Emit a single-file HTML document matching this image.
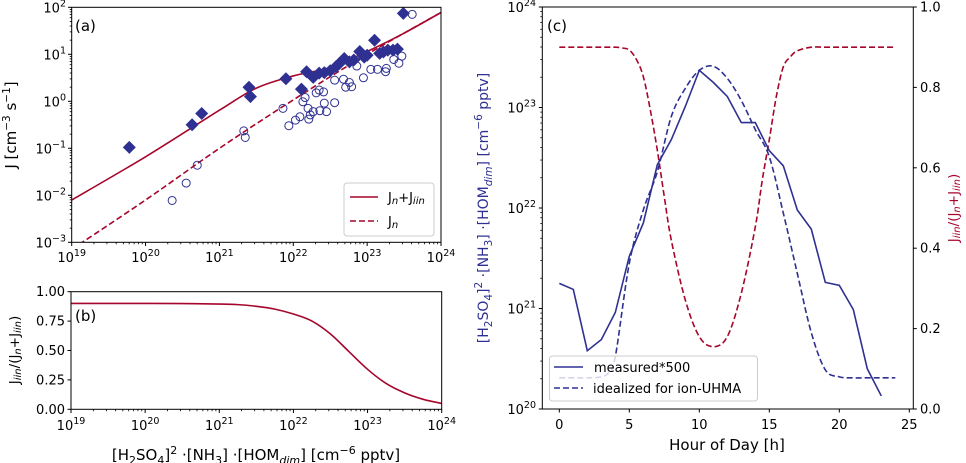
<!DOCTYPE html>
<html><head><meta charset="utf-8">
<style>
html,body{margin:0;padding:0;background:#fff;}
svg{display:block;font-family:"DejaVu Sans","Liberation Sans",sans-serif;}
</style></head>
<body>
<svg id="chart" width="966" height="463" viewBox="0 0 966 463" xmlns="http://www.w3.org/2000/svg">
<defs>
<clipPath id="clipA"><rect x="71.7" y="7.3" width="369.3" height="235"/></clipPath>
<clipPath id="clipB"><rect x="71" y="291.7" width="370.7" height="117.6"/></clipPath>
<clipPath id="clipC"><rect x="542.3" y="7" width="371" height="402"/></clipPath>
</defs>
</svg>
<script>
// ---------- Panel (a) data ----------
const lineLogX = [19, 20, 21, 21.5, 22, 22.5, 23, 23.5, 24];
const totalLogJ = [-2.1, -1.18, -0.19, 0.28, 0.54, 0.72, 1.06, 1.45, 1.89];
const jnLogX = [19, 20, 21, 22, 23, 24];
const jnLogJ = [-3.15, -2.1, -1.0, 0.03, 1.0, 1.89];
const diamondLogX = [19.78,20.63,20.76,21.40,21.42,21.90,22.11,22.18,22.27,22.42,22.50,22.58,22.69,22.76,22.90,22.96,23.10,23.17,23.28,23.35,23.41,23.49,22.35,22.62,22.82,23.00,23.22];
const diamondLogJ = [-0.98,-0.50,-0.26,0.30,0.10,0.48,0.26,0.63,0.51,0.61,0.65,0.74,0.91,0.84,1.06,0.94,1.30,1.02,1.09,1.09,1.11,1.87,0.60,0.80,0.88,0.98,1.05];
const circleLogX = [20.36,20.55,20.70,21.33,21.35,21.86,21.94,22.03,22.09,22.13,22.16,22.20,22.21,22.23,22.27,22.31,22.35,22.36,22.41,22.42,22.45,22.56,22.56,22.68,22.71,22.76,22.79,22.86,22.95,23.05,23.14,23.25,23.26,23.36,23.43,23.47,23.61];
const circleLogJ = [-2.11,-1.74,-1.36,-0.63,-0.77,-0.15,-0.52,-0.40,-0.33,-0.01,0.08,-0.15,-0.38,-0.29,-0.22,0.18,0.24,-0.20,0.20,-0.04,-0.22,-0.03,0.45,0.47,0.30,0.40,0.31,0.75,0.50,0.68,0.68,0.63,0.70,0.89,0.81,0.96,1.85];
const aYTicks = [-3,-2,-1,0,1,2];
const xDecades = [19,20,21,22,23,24];
// ---------- Panel (b) data ----------
const ratioLogX = [19,19.5,20,20.5,21,21.25,21.5,21.75,22,22.25,22.5,22.75,23,23.25,23.5,23.75,24];
const ratioVal = [0.900,0.900,0.900,0.899,0.895,0.89,0.876,0.852,0.81,0.75,0.64,0.49,0.34,0.22,0.14,0.085,0.05];
const bYTicks = [0,0.25,0.5,0.75,1.0];
const bYLabels = ["0.00","0.25","0.50","0.75","1.00"];
// ---------- Panel (c) data ----------
const hours = [0,1,2,3,4,5,6,7,8,9,10,11,12,13,14,15,16,17,18,19,20,21,22,23];
const measuredLog = [21.25,21.19,20.58,20.69,20.96,21.52,21.85,22.43,22.68,23.01,23.37,23.25,23.11,22.85,22.85,22.57,22.42,21.98,21.79,21.26,21.23,20.99,20.40,20.13];
const idealHours = [0,1,2,3,3.5,4,5,6,7,8,9,10,11,12,13,14,15,16,17,18,19,20,21,22,23,24];
const idealLog = [20.31,20.31,20.31,20.32,20.36,20.52,21.45,21.98,22.36,22.91,23.19,23.37,23.41,23.29,23.07,22.78,22.51,21.95,21.35,20.76,20.39,20.32,20.31,20.31,20.31,20.31];
const ratioHours = [0,1,2,3,4,4.5,5,5.5,6,6.5,7,7.5,8,9,10,11,12,13,14,14.5,15,15.5,16,16.5,17,18,19,20,21,22,23,24];
const ratioC = [0.9,0.9,0.9,0.9,0.9,0.898,0.893,0.87,0.827,0.744,0.644,0.528,0.42,0.271,0.18,0.155,0.18,0.288,0.453,0.57,0.67,0.777,0.851,0.876,0.891,0.9,0.9,0.9,0.9,0.9,0.9,0.9];
const cXTicks = [0,5,10,15,20,25];
const cLeftTicks = [20,21,22,23,24];
const cRightTicks = [0,0.2,0.4,0.6,0.8,1.0];
const cRightLabels = ["0.0","0.2","0.4","0.6","0.8","1.0"];

// ---------- scales ----------
const xa = l => 71.7 + (l - 19) * 73.86;
const ya = l => 7.3 + (2 - l) * 47;
const xb = l => 71 + (l - 19) * 74.14;
const yb = v => 409.3 - v * 117.6;
const xc = h => 559.3 + h * 14;
const ycl = l => 7 + (24 - l) * 100.5;
const ycr = v => 409 - v * 402;

const RED = "#a6052c", BLUE = "#2f3192";
const NS = "http://www.w3.org/2000/svg";
const svg = document.getElementById("chart");
function mk(tag, attrs, parent) {
  const e = document.createElementNS(NS, tag);
  for (const k in attrs) e.setAttribute(k, attrs[k]);
  (parent || svg).appendChild(e);
  return e;
}
function smoothPath(pts) {
  let d = "M" + pts[0][0].toFixed(2) + "," + pts[0][1].toFixed(2);
  for (let i = 0; i < pts.length - 1; i++) {
    const p0 = pts[i - 1] || pts[i], p1 = pts[i], p2 = pts[i + 1], p3 = pts[i + 2] || p2;
    const c1 = [p1[0] + (p2[0] - p0[0]) / 6, p1[1] + (p2[1] - p0[1]) / 6];
    const c2 = [p2[0] - (p3[0] - p1[0]) / 6, p2[1] - (p3[1] - p1[1]) / 6];
    d += "C" + c1.join(",") + " " + c2.join(",") + " " + p2[0] + "," + p2[1];
  }
  return d;
}
function linePath(pts) { return "M" + pts.map(p => p[0].toFixed(2) + "," + p[1].toFixed(2)).join("L"); }
function powText(x, y, base, exp, anchor, name) {
  const t = mk("text", {x: x, y: y, "font-size": 13, "text-anchor": anchor || "middle", fill: "#000"});
  
  
  const a = mk("tspan", {}, t); a.textContent = base;
  const b = mk("tspan", {dy: -6, "font-size": 9.5}, t); b.textContent = exp;
  return t;
}
function logMinorX(sx, y0, x0dec, x1dec, grp) {
  for (let d = x0dec; d < x1dec; d++) for (let m = 2; m <= 9; m++) {
    const x = sx(d + Math.log10(m));
    mk("line", {x1: x, x2: x, y1: y0, y2: y0 + 2, stroke: "#000", "stroke-width": 0.8}, grp);
  }
}

// ================= Panel (a) =================
const ga = mk("g", {});


const gaData = mk("g", {"clip-path": "url(#clipA)"}, ga);
const totalLine = mk("path", {d: smoothPath(lineLogX.map((l, i) => [xa(l), ya(totalLogJ[i])])), fill: "none", stroke: RED, "stroke-width": 1.6}, gaData);


const jnLine = mk("path", {d: smoothPath(jnLogX.map((l, i) => [xa(l), ya(jnLogJ[i])])), fill: "none", stroke: RED, "stroke-width": 1.6, "stroke-dasharray": "6,3"}, gaData);


circleLogX.forEach((l, i) => {
  const c = mk("circle", {cx: xa(l), cy: ya(circleLogJ[i]), r: 4, fill: "none", stroke: BLUE, "stroke-width": 1}, gaData);
  
  
});
diamondLogX.forEach((l, i) => {
  const x = xa(l), y = ya(diamondLogJ[i]);
  const p = mk("path", {d: `M${x},${y - 6.5}L${x + 6.5},${y}L${x},${y + 6.5}L${x - 6.5},${y}Z`, fill: BLUE}, gaData);
  
  
});
mk("rect", {x: 71.7, y: 7.3, width: 369.3, height: 235, fill: "none", stroke: "#000", "stroke-width": 1}, ga);
aYTicks.forEach(l => {
  const y = ya(l);
  mk("line", {x1: 71.7, x2: 68, y1: y, y2: y, stroke: "#000"}, ga);
  powText(66, y + 5, "10", l < 0 ? "−" + (-l) : String(l), "end", "y-tick-label-a");
});
for (let d = -3; d < 2; d++) for (let m = 2; m <= 9; m++) {
  const y = ya(d + Math.log10(m));
  mk("line", {x1: 71.7, x2: 69.7, y1: y, y2: y, stroke: "#000", "stroke-width": 0.8}, ga);
}
xDecades.forEach(l => {
  const x = xa(l);
  mk("line", {x1: x, x2: x, y1: 242.3, y2: 246, stroke: "#000"}, ga);
  powText(x, 262, "10", String(l), "middle", "x-tick-label-a");
});
logMinorX(xa, 242.3, 19, 24, ga);
const tA = mk("text", {x: 75, y: 31, "font-size": 15}, ga); tA.textContent = "(a)";
 
const yla = mk("text", {transform: "translate(16,125) rotate(-90)", "text-anchor": "middle", "font-size": 15}, ga);
 
yla.innerHTML = 'J [cm<tspan dy="-6" font-size="10.5">−3</tspan><tspan dy="6"> s</tspan><tspan dy="-6" font-size="10.5">−1</tspan><tspan dy="6">]</tspan>';
const lga = mk("g", {}, ga);
 
mk("rect", {x: 344, y: 183, width: 90, height: 53, rx: 3, fill: "#fff", stroke: "#ccc"}, lga);
mk("line", {x1: 350, x2: 378, y1: 197, y2: 197, stroke: RED, "stroke-width": 1.6}, lga);
mk("line", {x1: 350, x2: 378, y1: 221, y2: 221, stroke: RED, "stroke-width": 1.6, "stroke-dasharray": "6,3"}, lga);
const le1 = mk("text", {x: 388, y: 202, "font-size": 13}, lga);
 
le1.innerHTML = 'J<tspan font-style="italic" font-size="10" dy="2">n</tspan><tspan dy="-2">+J</tspan><tspan font-style="italic" font-size="10" dy="2">iin</tspan>';
const le2 = mk("text", {x: 388, y: 226, "font-size": 13}, lga);
 
le2.innerHTML = 'J<tspan font-style="italic" font-size="10" dy="2">n</tspan>';

// ================= Panel (b) =================
const gb = mk("g", {});
 
const gbData = mk("g", {"clip-path": "url(#clipB)"}, gb);
const rLine = mk("path", {d: smoothPath(ratioLogX.map((l, i) => [xb(l), yb(ratioVal[i])])), fill: "none", stroke: RED, "stroke-width": 1.6}, gbData);
 
mk("rect", {x: 71, y: 291.7, width: 370.7, height: 117.6, fill: "none", stroke: "#000"}, gb);
bYTicks.forEach((v, i) => {
  const y = yb(v);
  mk("line", {x1: 71, x2: 67.5, y1: y, y2: y, stroke: "#000"}, gb);
  const t = mk("text", {x: 65, y: y + 4.5, "font-size": 13, "text-anchor": "end"}, gb);
  t.textContent = bYLabels[i];
   
});
xDecades.forEach(l => {
  const x = xb(l);
  mk("line", {x1: x, x2: x, y1: 409.3, y2: 413, stroke: "#000"}, gb);
  powText(x, 430, "10", String(l), "middle", "x-tick-label-b");
});
logMinorX(xb, 409.3, 19, 24, gb);
const tB = mk("text", {x: 75, y: 321, "font-size": 15}, gb); tB.textContent = "(b)";
 
const ylb = mk("text", {transform: "translate(19,350) rotate(-90)", "text-anchor": "middle", "font-size": 13.5}, gb);
 
ylb.innerHTML = 'J<tspan font-style="italic" font-size="10" dy="2">iin</tspan><tspan dy="-2">/(J</tspan><tspan font-style="italic" font-size="10" dy="2">n</tspan><tspan dy="-2">+J</tspan><tspan font-style="italic" font-size="10" dy="2">iin</tspan><tspan dy="-2">)</tspan>';
const xlb = mk("text", {x: 256, y: 460, "text-anchor": "middle", "font-size": 15}, gb);
 
xlb.innerHTML = '[H<tspan font-size="11" dy="4">2</tspan><tspan dy="-4">SO</tspan><tspan font-size="11" dy="4">4</tspan><tspan dy="-4">]</tspan><tspan font-size="11" dy="-6">2</tspan><tspan dy="6"> ·[NH</tspan><tspan font-size="11" dy="4">3</tspan><tspan dy="-4">] ·[HOM</tspan><tspan font-size="11" font-style="italic" dy="4">dim</tspan><tspan dy="-4">] [cm</tspan><tspan font-size="11" dy="-6">−6</tspan><tspan dy="6"> pptv]</tspan>';

// ================= Panel (c) =================
const gc = mk("g", {});
 
const gcData = mk("g", {"clip-path": "url(#clipC)"}, gc);
const rc = mk("path", {d: smoothPath(ratioHours.map((h, i) => [xc(h), ycr(ratioC[i])])), fill: "none", stroke: RED, "stroke-width": 1.6, "stroke-dasharray": "6,3"}, gcData);
 
const idl = mk("path", {d: smoothPath(idealHours.map((h, i) => [xc(h), ycl(idealLog[i])])), fill: "none", stroke: BLUE, "stroke-width": 1.6, "stroke-dasharray": "6,3"}, gcData);
 
const ms = mk("path", {d: linePath(hours.map((h, i) => [xc(h), ycl(measuredLog[i])])), fill: "none", stroke: BLUE, "stroke-width": 1.6}, gcData);
 
mk("rect", {x: 542.3, y: 7, width: 371, height: 402, fill: "none", stroke: "#000"}, gc);
cXTicks.forEach(h => {
  const x = xc(h);
  mk("line", {x1: x, x2: x, y1: 409, y2: 412.5, stroke: "#000"}, gc);
  const t = mk("text", {x: x, y: 429, "font-size": 13, "text-anchor": "middle"}, gc);
  t.textContent = String(h);
   
});
cLeftTicks.forEach(l => {
  const y = ycl(l);
  mk("line", {x1: 542.3, x2: 538.8, y1: y, y2: y, stroke: "#000"}, gc);
  powText(536, y + 5, "10", String(l), "end", "left-y-tick-label-c");
});
for (let d = 20; d < 24; d++) for (let m = 2; m <= 9; m++) {
  const y = ycl(d + Math.log10(m));
  mk("line", {x1: 542.3, x2: 540.3, y1: y, y2: y, stroke: "#000", "stroke-width": 0.8}, gc);
}
cRightTicks.forEach((v, i) => {
  const y = ycr(v);
  mk("line", {x1: 913.3, x2: 916.8, y1: y, y2: y, stroke: "#000"}, gc);
  const t = mk("text", {x: 920, y: y + 4.5, "font-size": 13}, gc);
  t.textContent = cRightLabels[i];
   
});
const tC = mk("text", {x: 547, y: 31, "font-size": 15}, gc); tC.textContent = "(c)";
 
const xlc = mk("text", {x: 727, y: 450, "text-anchor": "middle", "font-size": 15}, gc);
xlc.textContent = "Hour of Day [h]";
 
const ylc = mk("text", {transform: "translate(488,208) rotate(-90)", "text-anchor": "middle", "font-size": 14, fill: BLUE}, gc);
 
ylc.innerHTML = '[H<tspan font-size="10.5" dy="4">2</tspan><tspan dy="-4">SO</tspan><tspan font-size="10.5" dy="4">4</tspan><tspan dy="-4">]</tspan><tspan font-size="10.5" dy="-6">2</tspan><tspan dy="6"> ·[NH</tspan><tspan font-size="10.5" dy="4">3</tspan><tspan dy="-4">] ·[HOM</tspan><tspan font-size="10.5" font-style="italic" dy="4">dim</tspan><tspan dy="-4">] [cm</tspan><tspan font-size="10.5" dy="-6">−6</tspan><tspan dy="6"> pptv]</tspan>';
const yrc = mk("text", {transform: "translate(958,208) rotate(-90)", "text-anchor": "middle", "font-size": 13.5, fill: RED}, gc);
 
yrc.innerHTML = 'J<tspan font-style="italic" font-size="10" dy="2">iin</tspan><tspan dy="-2">/(J</tspan><tspan font-style="italic" font-size="10" dy="2">n</tspan><tspan dy="-2">+J</tspan><tspan font-style="italic" font-size="10" dy="2">iin</tspan><tspan dy="-2">)</tspan>';
const lgc = mk("g", {}, gc);
 
mk("rect", {x: 549.5, y: 356, width: 208, height: 45, rx: 3, fill: "#fff", "fill-opacity": 0.8, stroke: "#ccc"}, lgc);
mk("line", {x1: 554, x2: 583, y1: 367, y2: 367, stroke: BLUE, "stroke-width": 1.6}, lgc);
mk("line", {x1: 554, x2: 583, y1: 388, y2: 388, stroke: BLUE, "stroke-width": 1.6, "stroke-dasharray": "6,3"}, lgc);
const lc1 = mk("text", {x: 594, y: 372, "font-size": 13}, lgc); lc1.textContent = "measured*500";
 
const lc2 = mk("text", {x: 593, y: 393, "font-size": 13}, lgc); lc2.textContent = "idealized for ion-UHMA";
 
</script>
</body></html>
